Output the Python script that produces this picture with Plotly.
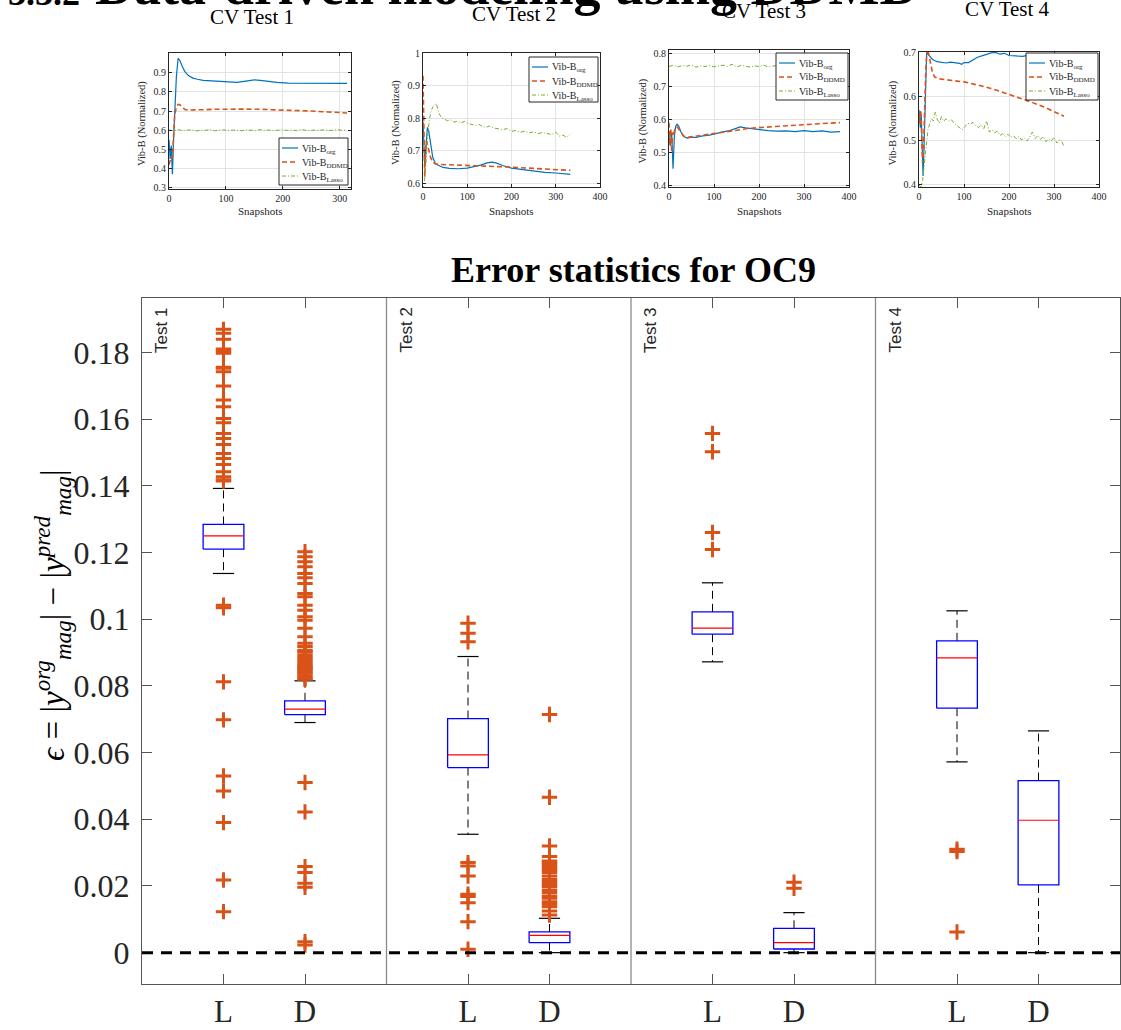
import plotly.graph_objects as go

W, H = 1121, 1030

# ------------------------------------------------------------------
# Data: CV test line charts
# ------------------------------------------------------------------
t1_org_x = [0, 2, 4, 6, 8, 10, 13, 16, 19, 23, 28, 34, 42, 50, 60, 75, 90, 105, 120, 135, 150, 160, 175, 190, 210, 230, 250, 270, 290, 313]
t1_org = [0.55, 0.45, 0.52, 0.37, 0.55, 0.68, 0.88, 0.975, 0.965, 0.935, 0.905, 0.885, 0.872, 0.866, 0.860, 0.857, 0.855, 0.852, 0.850, 0.856, 0.863, 0.860, 0.854, 0.850, 0.846, 0.845, 0.844, 0.843, 0.842, 0.844]
t1_ddmd_x = [0, 2, 4, 6, 8, 10, 13, 16, 19, 23, 28, 35, 45, 60, 80, 100, 130, 160, 190, 220, 250, 280, 313]
t1_ddmd = [0.42, 0.44, 0.46, 0.45, 0.58, 0.68, 0.72, 0.735, 0.733, 0.72, 0.708, 0.705, 0.705, 0.707, 0.709, 0.710, 0.710, 0.709, 0.707, 0.704, 0.700, 0.695, 0.690]
t1_lasso_x = [0, 8, 16, 24, 32, 40, 48, 56, 64, 72, 80, 88, 96, 104, 112, 120, 128, 136, 144, 152, 160, 168, 176, 184, 192, 200, 208, 216, 224, 232, 240, 248, 256, 264, 272, 280, 288, 296, 304, 312]
t1_lasso = [0.601, 0.597, 0.603, 0.598, 0.600, 0.602, 0.596, 0.601, 0.599, 0.603, 0.597, 0.600, 0.602, 0.598, 0.601, 0.599, 0.597, 0.602, 0.600, 0.598, 0.603, 0.599, 0.601, 0.597, 0.600, 0.602, 0.599, 0.601, 0.598, 0.603, 0.600, 0.597, 0.601, 0.599, 0.602, 0.598, 0.600, 0.603, 0.599, 0.601]

t2_org_x = [0, 2, 4, 7, 10, 13, 17, 22, 28, 35, 45, 60, 80, 100, 115, 130, 145, 155, 165, 180, 200, 225, 250, 275, 300, 315, 333]
t2_org = [0.79, 0.72, 0.65, 0.72, 0.772, 0.76, 0.72, 0.68, 0.66, 0.655, 0.649, 0.646, 0.645, 0.647, 0.651, 0.656, 0.663, 0.665, 0.663, 0.655, 0.647, 0.642, 0.638, 0.634, 0.632, 0.630, 0.628]
t2_ddmd_x = [0, 2, 4, 6, 8, 10, 13, 17, 22, 28, 40, 60, 100, 150, 200, 250, 300, 333]
t2_ddmd = [0.93, 0.80, 0.62, 0.70, 0.73, 0.72, 0.70, 0.68, 0.665, 0.660, 0.658, 0.657, 0.656, 0.654, 0.650, 0.646, 0.642, 0.640]
t2_lasso_x = [0, 3, 6, 9, 12, 15, 18, 22, 26, 30, 34, 38, 43, 48, 55, 62, 70, 78, 86, 94, 102, 110, 118, 126, 134, 142, 150, 160, 170, 180, 190, 200, 210, 220, 230, 240, 250, 260, 270, 280, 290, 300, 308, 316, 324, 333]
t2_lasso = [0.58, 0.60, 0.65, 0.72, 0.77, 0.80, 0.82, 0.835, 0.84, 0.845, 0.825, 0.81, 0.80, 0.798, 0.792, 0.795, 0.788, 0.791, 0.786, 0.79, 0.784, 0.782, 0.778, 0.781, 0.775, 0.772, 0.776, 0.77, 0.768, 0.765, 0.768, 0.76, 0.762, 0.757, 0.76, 0.755, 0.758, 0.753, 0.756, 0.752, 0.75, 0.757, 0.745, 0.748, 0.742, 0.75]

t3_org_x = [0, 3, 6, 9, 12, 15, 18, 22, 27, 33, 40, 50, 60, 75, 90, 105, 120, 135, 150, 158, 170, 185, 200, 220, 240, 260, 280, 300, 320, 340, 360, 380]
t3_org = [0.55, 0.52, 0.56, 0.45, 0.55, 0.58, 0.585, 0.578, 0.56, 0.548, 0.543, 0.546, 0.545, 0.55, 0.552, 0.558, 0.562, 0.566, 0.572, 0.577, 0.574, 0.571, 0.569, 0.566, 0.564, 0.565, 0.563, 0.566, 0.563, 0.565, 0.561, 0.563]
t3_ddmd_x = [0, 2, 4, 6, 8, 10, 13, 17, 21, 26, 32, 40, 50, 75, 100, 125, 150, 175, 200, 250, 300, 350, 380]
t3_ddmd = [0.59, 0.52, 0.57, 0.50, 0.56, 0.55, 0.57, 0.578, 0.572, 0.56, 0.55, 0.545, 0.547, 0.552, 0.558, 0.563, 0.568, 0.572, 0.575, 0.580, 0.584, 0.588, 0.590]
t3_lasso_x = [0, 10, 20, 30, 40, 50, 60, 70, 80, 90, 100, 110, 120, 130, 140, 150, 160, 170, 180, 190, 200, 210, 220, 230, 240, 250, 260, 270, 280, 290, 300, 310, 320, 330, 340, 350, 360, 370, 380]
t3_lasso = [0.760, 0.764, 0.759, 0.763, 0.761, 0.765, 0.758, 0.762, 0.760, 0.763, 0.759, 0.761, 0.764, 0.760, 0.767, 0.759, 0.763, 0.761, 0.758, 0.762, 0.760, 0.764, 0.759, 0.761, 0.763, 0.760, 0.762, 0.758, 0.761, 0.764, 0.760, 0.762, 0.759, 0.763, 0.761, 0.760, 0.764, 0.759, 0.762]

t4_org_x = [0, 3, 5, 7, 9, 11, 13, 15, 17, 20, 25, 30, 40, 50, 60, 70, 80, 90, 95, 100, 110, 120, 130, 145, 160, 170, 180, 190, 200, 215, 230, 245, 260, 275, 290, 305, 320]
t4_org = [0.57, 0.53, 0.56, 0.50, 0.42, 0.48, 0.58, 0.66, 0.70, 0.697, 0.69, 0.685, 0.680, 0.679, 0.677, 0.679, 0.678, 0.676, 0.674, 0.678, 0.678, 0.684, 0.690, 0.695, 0.700, 0.701, 0.697, 0.699, 0.694, 0.693, 0.692, 0.695, 0.690, 0.694, 0.691, 0.695, 0.692]
t4_ddmd_x = [0, 2, 4, 6, 8, 10, 12, 15, 18, 21, 25, 30, 35, 45, 60, 80, 100, 130, 160, 190, 220, 250, 280, 300, 322]
t4_ddmd = [0.56, 0.54, 0.57, 0.52, 0.45, 0.48, 0.56, 0.66, 0.71, 0.70, 0.68, 0.655, 0.645, 0.641, 0.639, 0.637, 0.634, 0.627, 0.619, 0.609, 0.599, 0.588, 0.576, 0.567, 0.556]
t4_lasso_x = [0, 4, 8, 12, 16, 20, 24, 28, 32, 36, 40, 45, 50, 55, 60, 66, 72, 78, 84, 90, 96, 102, 108, 114, 120, 126, 132, 138, 144, 150, 156, 162, 168, 174, 180, 186, 192, 198, 204, 210, 216, 222, 228, 234, 240, 246, 252, 258, 264, 270, 276, 282, 288, 294, 300, 306, 312, 318, 322]
t4_lasso = [0.40, 0.395, 0.41, 0.45, 0.50, 0.525, 0.54, 0.55, 0.545, 0.565, 0.55, 0.54, 0.555, 0.545, 0.55, 0.545, 0.548, 0.54, 0.535, 0.53, 0.525, 0.532, 0.54, 0.538, 0.542, 0.535, 0.53, 0.536, 0.528, 0.545, 0.52, 0.525, 0.518, 0.522, 0.512, 0.516, 0.51, 0.515, 0.508, 0.512, 0.505, 0.51, 0.502, 0.507, 0.50, 0.508, 0.52, 0.505, 0.512, 0.503, 0.51, 0.498, 0.505, 0.50, 0.508, 0.495, 0.502, 0.497, 0.487]

cv_titles = ["CV Test 1", "CV Test 2", "CV Test 3", "CV Test 4"]
series_names = ["Vib-B<sub>org</sub>", "Vib-B<sub>DDMD</sub>", "Vib-B<sub>Lasso</sub>"]
cv_ytickvals = [[0.3, 0.4, 0.5, 0.6, 0.7, 0.8, 0.9], [0.6, 0.7, 0.8, 0.9, 1.0], [0.4, 0.5, 0.6, 0.7, 0.8], [0.4, 0.5, 0.6, 0.7]]
cv_yticktext = [["0.3", "0.4", "0.5", "0.6", "0.7", "0.8", "0.9"], ["0.6", "0.7", "0.8", "0.9", "1"], ["0.4", "0.5", "0.6", "0.7", "0.8"], ["0.4", "0.5", "0.6", "0.7"]]
cv_xtickvals = [[0, 100, 200, 300], [0, 100, 200, 300, 400], [0, 100, 200, 300, 400], [0, 100, 200, 300, 400]]
cv_yrange = [[0.293, 1.003], [0.589, 1.0], [0.395, 0.81], [0.395, 0.702]]
cv_xrange = [[0, 320], [0, 400], [0, 400], [0, 400]]

# ------------------------------------------------------------------
# Data: error statistics box plots (Test 1..4, methods L and D)
# ------------------------------------------------------------------
tests = ["Test 1", "Test 2", "Test 3", "Test 4"]
methods = ["L", "D"]
box_q1 = [0.1210, 0.0714, 0.0555, 0.0030, 0.0955, 0.0011, 0.0733, 0.0203]
box_median = [0.1250, 0.0730, 0.0593, 0.0052, 0.0973, 0.0030, 0.0884, 0.0397]
box_q3 = [0.1284, 0.0755, 0.0702, 0.0062, 0.1022, 0.0073, 0.0935, 0.0516]
box_lowwhisk = [0.1137, 0.0690, 0.0355, 0.0000, 0.0872, 0.0000, 0.0572, 0.0000]
box_highwhisk = [0.1392, 0.0815, 0.0888, 0.0103, 0.1109, 0.0120, 0.1025, 0.0665]
box_outliers = [
    [0.1869, 0.1857, 0.1839, 0.1810, 0.1804, 0.1797, 0.1755, 0.1752, 0.1742, 0.1699, 0.1657, 0.1637, 0.1602, 0.1589,
     0.1557, 0.1542, 0.1524, 0.1497, 0.1482, 0.1464, 0.1442, 0.1427, 0.1418, 0.1414, 0.1042, 0.1034, 0.0812, 0.0698,
     0.0530, 0.0485, 0.0390, 0.0218, 0.0123],
    [0.1202, 0.1187, 0.1172, 0.1157, 0.1137, 0.1124, 0.1107, 0.1077, 0.1067, 0.1042, 0.1027, 0.1007, 0.0997, 0.0973,
     0.0947, 0.0928, 0.0918, 0.0907, 0.0902, 0.0893, 0.0885, 0.0878, 0.0870, 0.0862, 0.0857, 0.0853, 0.0848, 0.0842,
     0.0838, 0.0830, 0.0823, 0.0820, 0.0510, 0.0422, 0.0258, 0.0240, 0.0208, 0.0196, 0.0033, 0.0023],
    [0.0988, 0.0958, 0.0932, 0.0270, 0.0260, 0.0230, 0.0175, 0.0168, 0.0150, 0.0093, 0.0010],
    [0.0714, 0.0466, 0.0320, 0.0288, 0.0275, 0.0270, 0.0263, 0.0255, 0.0248, 0.0240, 0.0230, 0.0220, 0.0213, 0.0205,
     0.0198, 0.0188, 0.0180, 0.0170, 0.0163, 0.0153, 0.0145, 0.0138, 0.0125, 0.0113],
    [0.1557, 0.1502, 0.1260, 0.1209],
    [0.0211, 0.0193],
    [0.0310, 0.0303, 0.0062],
    [],
]
err_ytickvals = [0, 0.02, 0.04, 0.06, 0.08, 0.1, 0.12, 0.14, 0.16, 0.18]
err_yticktext = ["0", "0.02", "0.04", "0.06", "0.08", "0.1", "0.12", "0.14", "0.16", "0.18"]

# ------------------------------------------------------------------
SERIF = "Liberation Serif"
SANS = "Liberation Sans"
BLUE = "#0072BD"
ORANGE = "#D95319"
GREEN = "#77AC30"
AXC = "#262626"


def fx(p):
    return p / W


def fy(p):
    return 1 - p / H


def top_for_baseline(baseline, fs):
    return baseline - 1 - 0.891 * fs


fig = go.Figure()
annotations = []
shapes = []
layout_axes = {}

# ---------------- small CV charts ----------------
cv_dom_x = [(169, 351), (423, 600), (669, 849), (919, 1099)]
cv_dom_y = [(53, 189), (53, 187), (50, 187), (52, 187)]
cv_legend_box = [(279, 138, 348, 185), (529, 57, 598, 102), (776, 53, 848, 100), (1026, 53, 1098, 100)]
cv_title_cx = [252, 514, 764, 1007]
cv_title_base = [23, 20, 17, 15]
cv_data = [
    (t1_org_x, t1_org, t1_ddmd_x, t1_ddmd, t1_lasso_x, t1_lasso),
    (t2_org_x, t2_org, t2_ddmd_x, t2_ddmd, t2_lasso_x, t2_lasso),
    (t3_org_x, t3_org, t3_ddmd_x, t3_ddmd, t3_lasso_x, t3_lasso),
    (t4_org_x, t4_org, t4_ddmd_x, t4_ddmd, t4_lasso_x, t4_lasso),
]
styles = [
    dict(color=BLUE, width=1.2, dash="solid"),
    dict(color=ORANGE, width=1.6, dash="5px,3px"),
    dict(color=GREEN, width=1.0, dash="4px,2px,1px,2px"),
]

for i in range(4):
    k = i + 2
    xa, ya = f"x{k}", f"y{k}"
    d = cv_data[i]
    for s in range(3):
        fig.add_trace(go.Scatter(
            x=d[2 * s], y=d[2 * s + 1], mode="lines", name=series_names[s],
            line=styles[s], xaxis=xa, yaxis=ya, showlegend=False,
        ))
    layout_axes[f"xaxis{k}"] = dict(
        domain=[fx(cv_dom_x[i][0]), fx(cv_dom_x[i][1])], anchor=ya, range=cv_xrange[i],
        tickvals=cv_xtickvals[i], ticks="inside", ticklen=3, tickcolor=AXC,
        showline=True, linecolor=AXC, linewidth=1, mirror="allticks",
        showgrid=True, gridcolor="#e3e3e3", zeroline=False,
        tickfont=dict(family=SERIF, size=10, color=AXC),
    )
    layout_axes[f"yaxis{k}"] = dict(
        domain=[fy(cv_dom_y[i][1]), fy(cv_dom_y[i][0])], anchor=xa, range=cv_yrange[i],
        tickvals=cv_ytickvals[i], ticktext=cv_yticktext[i], ticks="inside", ticklen=3, tickcolor=AXC,
        showline=True, linecolor=AXC, linewidth=1, mirror="allticks",
        showgrid=True, gridcolor="#e3e3e3", zeroline=False,
        tickfont=dict(family=SERIF, size=10, color=AXC),
    )
    # legend box (drawn in page pixels)
    L, T, R, B = cv_legend_box[i]
    shapes.append(dict(type="rect", xref="paper", yref="paper", x0=fx(L), x1=fx(R), y0=fy(B), y1=fy(T),
                       line=dict(color=AXC, width=1), fillcolor="white", layer="above"))
    for s in range(3):
        ry = T + 10 + 14 * s
        shapes.append(dict(type="line", xref="paper", yref="paper", x0=fx(L + 3), x1=fx(L + 19),
                           y0=fy(ry), y1=fy(ry), line=styles[s], layer="above"))
        annotations.append(dict(
            text=series_names[s], xref="paper", yref="paper", x=fx(L + 21), y=fy(ry + 1),
            xanchor="left", yanchor="middle", showarrow=False,
            font=dict(family=SERIF, size=10, color=AXC),
        ))
    # title
    annotations.append(dict(
        text=cv_titles[i], xref="paper", yref="paper",
        x=fx(cv_title_cx[i]), y=fy(top_for_baseline(cv_title_base[i], 21)),
        xanchor="center", yanchor="top", showarrow=False,
        font=dict(family=SERIF, size=21, color="black"),
    ))
    # axis titles
    cx = (cv_dom_x[i][0] + cv_dom_x[i][1]) / 2
    cy = (cv_dom_y[i][0] + cv_dom_y[i][1]) / 2 + 3
    annotations.append(dict(
        text="Snapshots", xref="paper", yref="paper", x=fx(cx), y=fy(211),
        xanchor="center", yanchor="middle", showarrow=False,
        font=dict(family=SERIF, size=11, color=AXC),
    ))
    annotations.append(dict(
        text="Vib-B (Normalized)", xref="paper", yref="paper", x=fx(cv_dom_x[i][0] - 27), y=fy(cy),
        xanchor="center", yanchor="middle", textangle=-90, showarrow=False,
        font=dict(family=SERIF, size=10.5, color=AXC),
    ))

# ---------------- main box plot ----------------
positions = []
for t in range(len(tests)):
    for m in range(len(methods)):
        positions.append(3 * t + m + 1)

bw = 0.25   # box half width
cw = 0.13   # cap half width
bx, by, mx, my, wx, wy, cx_, cy_ = [], [], [], [], [], [], [], []
ox, oy = [], []
for j, p in enumerate(positions):
    bx += [p - bw, p + bw, p + bw, p - bw, p - bw, None]
    by += [box_q1[j], box_q1[j], box_q3[j], box_q3[j], box_q1[j], None]
    mx += [p - bw, p + bw, None]
    my += [box_median[j], box_median[j], None]
    wx += [p, p, None, p, p, None]
    wy += [box_q3[j], box_highwhisk[j], None, box_q1[j], box_lowwhisk[j], None]
    cx_ += [p - cw, p + cw, None, p - cw, p + cw, None]
    cy_ += [box_highwhisk[j], box_highwhisk[j], None, box_lowwhisk[j], box_lowwhisk[j], None]
    for v in box_outliers[j]:
        ox.append(p)
        oy.append(v)

fig.add_trace(go.Scatter(x=wx, y=wy, mode="lines", line=dict(color="black", width=1, dash="8px,5px"),
                         showlegend=False, hoverinfo="skip"))
fig.add_trace(go.Scatter(x=cx_, y=cy_, mode="lines", line=dict(color="black", width=1.2),
                         showlegend=False, hoverinfo="skip"))
fig.add_trace(go.Scatter(x=bx, y=by, mode="lines", line=dict(color="#0000FF", width=1.3),
                         showlegend=False, hoverinfo="skip"))
fig.add_trace(go.Scatter(x=mx, y=my, mode="lines", line=dict(color="#FF0000", width=1.2),
                         showlegend=False, hoverinfo="skip"))
fig.add_trace(go.Scatter(x=ox, y=oy, mode="markers",
                         marker=dict(symbol="cross-thin", size=11, color=ORANGE,
                                     line=dict(color=ORANGE, width=3)),
                         showlegend=False, hoverinfo="skip"))

for t in range(1, len(tests)):
    shapes.append(dict(type="line", xref="x", yref="y domain", x0=3 * t, x1=3 * t, y0=0, y1=1,
                       line=dict(color="#8a8a8a", width=1.3), layer="below"))
shapes.append(dict(type="line", xref="x domain", yref="y", x0=0, x1=1, y0=0, y1=0,
                   line=dict(color="black", width=3, dash="11px,8px"), layer="above"))

for t in range(len(tests)):
    annotations.append(dict(
        text=tests[t], xref="x", yref="paper", x=3 * t, y=fy(298),
        xanchor="left", yanchor="top", xshift=8, yshift=-8, textangle=-90, showarrow=False,
        font=dict(family=SANS, size=17, color=AXC),
    ))

annotations.append(dict(
    text="<b>Error statistics for OC9</b>", xref="paper", yref="paper",
    x=fx(633), y=fy(top_for_baseline(281, 36)), xanchor="center", yanchor="top", showarrow=False,
    font=dict(family=SERIF, size=36, color="black"),
))
annotations.append(dict(
    text="<i>ϵ</i> = |<i>y</i><sup><i>org</i></sup><sub><i>mag</i></sub>| − |<i>y</i><sup><i>pred</i></sup><sub><i>mag</i></sub>|",
    xref="paper", yref="paper", x=fx(52), y=fy(615), xanchor="center", yanchor="middle",
    textangle=-90, showarrow=False, font=dict(family=SERIF, size=33, color="black"),
))
# page heading cut by the top edge
annotations.append(dict(
    text="<b>3.3.2</b>", xref="paper", yref="paper", x=fx(6), y=fy(top_for_baseline(4, 36)),
    xanchor="left", yanchor="top", showarrow=False, font=dict(family=SERIF, size=36, color="black"),
))
annotations.append(dict(
    text="<b>Data-driven modeling using DDMD</b>", xref="paper", yref="paper", x=fx(93),
    y=fy(top_for_baseline(3, 54)), xanchor="left", yanchor="top", showarrow=False,
    font=dict(family=SERIF, size=54, color="black"),
))

fig.update_layout(
    width=W, height=H, margin=dict(l=0, r=0, t=0, b=0),
    template="none", paper_bgcolor="white", plot_bgcolor="white", showlegend=False,
    xaxis=dict(domain=[fx(142), fx(1120)], range=[0, 12], tickvals=positions,
               ticktext=[methods[m] for t in range(len(tests)) for m in range(len(methods))],
               ticks="inside", ticklen=10, tickcolor="#555", showline=True, linecolor="#555", linewidth=1,
               mirror="allticks", showgrid=False, zeroline=False, ticklabelstandoff=0,
               tickfont=dict(family=SERIF, size=31, color=AXC)),
    yaxis=dict(domain=[fy(984), fy(298)], range=[-0.0094, 0.1963], tickvals=err_ytickvals,
               ticktext=err_yticktext, ticks="inside", ticklen=10, tickcolor="#555", showline=True,
               linecolor="#555", linewidth=1, mirror="allticks", showgrid=False, zeroline=False,
               ticklabelstandoff=5, tickfont=dict(family=SERIF, size=32, color=AXC)),
    shapes=shapes, annotations=annotations, **layout_axes,
)

fig.write_html("out.html")
